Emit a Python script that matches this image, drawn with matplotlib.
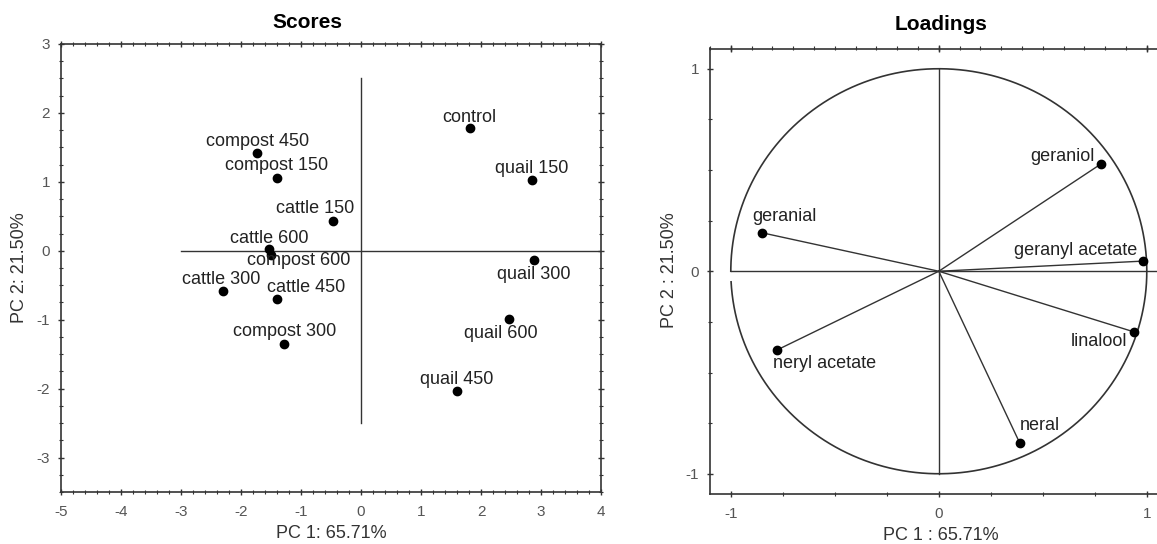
import numpy as np
import matplotlib
matplotlib.use('Agg')
import matplotlib.pyplot as plt
from matplotlib.ticker import MultipleLocator

plt.rcParams['font.family'] = ['Liberation Sans', 'DejaVu Sans']
plt.rcParams['axes.unicode_minus'] = False

# scores (PC1, PC2)
score_names = ['control', 'compost 450', 'compost 150', 'cattle 150', 'cattle 600',
               'compost 600', 'cattle 300', 'cattle 450', 'compost 300',
               'quail 150', 'quail 300', 'quail 600', 'quail 450']
score_pc1 = [1.81, -1.73, -1.40, -0.47, -1.53, -1.50, -2.30, -1.40, -1.28,
             2.85, 2.88, 2.47, 1.60]
score_pc2 = [1.78, 1.42, 1.06, 0.43, 0.03, -0.06, -0.58, -0.70, -1.35,
             1.03, -0.13, -0.99, -2.04]

# loadings (PC1, PC2)
load_names = ['geraniol', 'geranial', 'geranyl acetate', 'linalool',
              'neryl acetate', 'neral']
load_pc1 = [0.78, -0.85, 0.98, 0.94, -0.78, 0.39]
load_pc2 = [0.53, 0.19, 0.05, -0.30, -0.39, -0.85]

# label placement: (ha, dx, dy) in pixels
score_offsets = [('center', 0, 11), ('center', 0, 11), ('center', 0, 12),
                 ('center', -18, 13), ('center', 0, 10), ('center', 28, -6),
                 ('center', -2, 11), ('center', 29, 12), ('center', 0, 12),
                 ('center', 0, 11), ('center', 0, -15), ('center', -8, -14),
                 ('center', 0, 12)]
load_offsets = [('right', -6, 7), ('left', -10, 16), ('right', -5, 11),
                ('right', -7, -9), ('left', -4, -13), ('left', 0, 18)]

LINE = '#333333'
TICKC = '#555555'
W, H = 1157, 544

fig = plt.figure(figsize=(W / 100, H / 100), dpi=100)


def style_axes(ax, xminor, yminor):
    for s in ax.spines.values():
        s.set_color(LINE)
        s.set_linewidth(1.2)
    ax.xaxis.set_minor_locator(MultipleLocator(xminor))
    ax.yaxis.set_minor_locator(MultipleLocator(yminor))
    ax.tick_params(which='both', direction='inout', top=True, right=True,
                   color=LINE, labelcolor=TICKC, labelsize=11)
    ax.tick_params(which='major', length=4, width=1)
    ax.tick_params(which='minor', length=3, width=0.8)
    ax.tick_params(axis='x', pad=7)
    ax.tick_params(axis='y', pad=6)


# ---- Scores ----
ax1 = fig.add_axes([61 / W, 52 / H, 540 / W, 448 / H])
ax1.set_xlim(-5, 4)
ax1.set_ylim(-3.5, 3)
ax1.set_xticks(np.arange(-5, 5, 1))
ax1.set_yticks(np.arange(-3, 4, 1))
style_axes(ax1, 0.2, 0.25)
ax1.plot([-3, 4], [0, 0], color=LINE, lw=1)
ax1.plot([0, 0], [-2.5, 2.5], color=LINE, lw=1)
ax1.plot(score_pc1, score_pc2, 'o', color='black', ms=6, zorder=3)
for name, x, y, (ha, dx, dy) in zip(score_names, score_pc1, score_pc2, score_offsets):
    ax1.annotate(name, (x, y), xytext=(dx, dy), textcoords='offset pixels',
                 ha=ha, va='center', fontsize=13, color='#222222')

# ---- Loadings ----
ax2 = fig.add_axes([710 / W, 50 / H, 457.6 / W, 445.5 / H])
ax2.set_xlim(-1.1, 1.1)
ax2.set_ylim(-1.1, 1.1)
ax2.set_xticks([-1, 0, 1])
ax2.set_yticks([-1, 0, 1])
style_axes(ax2, 0.25, 0.25)
ax2.tick_params(which='minor', top=False)
top = ax2.secondary_xaxis('top')
top.xaxis.set_major_locator(MultipleLocator(1))
top.xaxis.set_minor_locator(MultipleLocator(0.1))
top.tick_params(which='both', direction='inout', color=LINE, labeltop=False)
top.tick_params(which='major', length=4, width=1)
top.tick_params(which='minor', length=3, width=0.8)
top.spines['top'].set_visible(False)

theta = np.radians(np.linspace(-177, 180, 400))
ax2.plot(np.cos(theta), np.sin(theta), color=LINE, lw=1.2)
ax2.plot([-1, 1.1], [0, 0], color=LINE, lw=1)
ax2.plot([0, 0], [-1, 1], color=LINE, lw=1)
for x, y in zip(load_pc1, load_pc2):
    ax2.plot([0, x], [0, y], color=LINE, lw=1)
ax2.plot(load_pc1, load_pc2, 'o', color='black', ms=6, zorder=3)
for name, x, y, (ha, dx, dy) in zip(load_names, load_pc1, load_pc2, load_offsets):
    ax2.annotate(name, (x, y), xytext=(dx, dy), textcoords='offset pixels',
                 ha=ha, va='center', fontsize=13, color='#222222')

# titles and axis labels
fig.text(307 / W, 1 - 23 / H, 'Scores', ha='center', va='center',
         fontsize=15, fontweight='bold')
fig.text(941 / W, 1 - 25 / H, 'Loadings', ha='center', va='center',
         fontsize=15, fontweight='bold')
fig.text(331 / W, 1 - 533 / H, 'PC 1: 65.71%', ha='center', va='center',
         fontsize=13, color='#333333')
fig.text(20 / W, 1 - 268 / H, 'PC 2: 21.50%', ha='center', va='center',
         rotation=90, fontsize=13, color='#333333')
fig.text(941 / W, 1 - 535 / H, 'PC 1 : 65.71%', ha='center', va='center',
         fontsize=13, color='#333333')
fig.text(670 / W, 1 - 270 / H, 'PC 2 : 21.50%', ha='center', va='center',
         rotation=90, fontsize=13, color='#333333')

fig.savefig('out.png', dpi=100)
